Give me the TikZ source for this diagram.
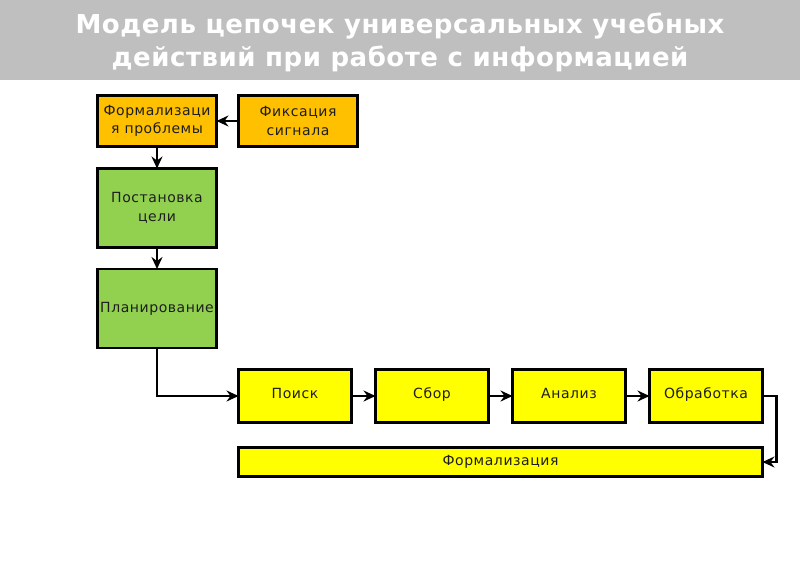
\documentclass[tikz,border=0pt]{standalone}
\usepackage{fontspec}
\newfontfamily\boxfont{DejaVu Sans}[LetterSpace=4]
\newfontfamily\titlefont{DejaVu Sans}[LetterSpace=2]
\usetikzlibrary{positioning,arrows.meta}
\definecolor{bandgray}{HTML}{BFBFBF}
\definecolor{stageorange}{HTML}{FFC000}
\definecolor{stagegreen}{HTML}{92D050}
\definecolor{stageyellow}{HTML}{FFFF00}
\definecolor{stagetext}{HTML}{1E1E1E}
\tikzset{
  stage/.style={draw=black, line width=2.8pt, text=stagetext, align=center, outer sep=0pt, inner sep=2pt,
    font=\boxfont\fontsize{14}{18.5}\selectfont},
  orangestage/.style={stage, fill=stageorange, minimum width=119pt, minimum height=51pt},
  greenstage/.style={stage, fill=stagegreen, minimum width=119pt, minimum height=79pt},
  yellowstage/.style={stage, fill=stageyellow, minimum width=113pt, minimum height=53pt, text height=1.5ex, text depth=.3ex},
  flowarrow/.style={draw=black, line width=2.8pt, -{Stealth[length=12pt,width=11pt,inset=4pt]}}
}

\begin{document}
\begin{tikzpicture}[x=1pt,y=-1pt]
        \useasboundingbox (0,0) rectangle (800,571);
        \fill[bandgray] (0,0) rectangle (800,80);
        \node[text=white, align=center, font=\titlefont\bfseries\fontsize{26}{33}\selectfont] (title) at (400,42)
            {Модель цепочек универсальных учебных\\действий при работе с информацией};
        \node[orangestage] (problem) at (157,121) {Формализаци\\я проблемы};
        \node[orangestage] (signal) at (298,121) {Фиксация\\сигнала};
        \node[greenstage] (goal) at (157,208) {Постановка\\цели};
        \node[greenstage] (plan) at (157,308.5) {Планирование};
        \node[yellowstage] (search) at (295,396) {Поиск};
        \node[yellowstage, right=24pt of search] (collect) {Сбор};
        \node[yellowstage, right=24pt of collect] (analysis) {Анализ};
        \node[yellowstage, right=24pt of analysis] (processing) {Обработка};
        \node[stage, fill=stageyellow, minimum width=524pt, minimum height=29pt] (formal) at (500.5,462) {Формализация};
        \draw[flowarrow] (signal) -- (problem);
        \draw[flowarrow] (problem) -- (goal);
        \draw[flowarrow] (goal) -- (plan);
        \draw[flowarrow] (plan.south) |- (search);
        \draw[flowarrow] (search) -- (collect);
        \draw[flowarrow] (collect) -- (analysis);
        \draw[flowarrow] (analysis) -- (processing);
        \draw[flowarrow] (processing.east) -- ++(14,0) |- (formal.east);
\end{tikzpicture}
\end{document}
